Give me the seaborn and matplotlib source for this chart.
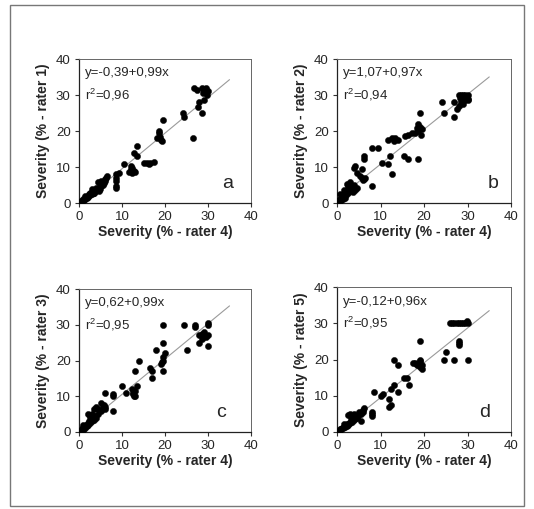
import matplotlib
matplotlib.use("Agg")
import matplotlib.pyplot as plt
import seaborn as sns
import pandas as pd
from matplotlib.patches import Rectangle

sns.set_style("ticks")
plt.rcParams['font.family'] = ['Liberation Sans', 'DejaVu Sans']

# ---------------- data ----------------
xa = [0.2,0.4,0.5,0.7,0.9,1.0,1.2,1.4,1.5,1.7,1.9,2.0,2.2,2.4,2.6,2.8,3.0,3.2,3.4,3.5,3.8,4.0,4.2,4.5,4.8,5.0,5.2,5.5,5.8,6.0,6.2,6.0,6.5,4.4,5.2,3.0,2.5,1.5,3.6,4.6,
      8.6,8.6,8.6,8.6,8.6,9.4,10.5,12.0,12.4,12.0,12.8,11.7,12.4,13.0,12.8,13.6,13.6,15.0,15.9,16.6,17.4,16.2,
      18.5,18.5,18.2,19.0,19.3,18.8,19.5,24.5,24.2,26.6,28.5,27.6,28.0,29.0,26.8,27.5,28.5,29.0,29.5,29.5,28.8,30.0,29.8]
ya = [0.1,0.3,0.6,0.5,0.8,1.1,0.9,1.3,1.0,1.6,1.4,2.0,1.8,2.4,2.1,2.9,2.6,3.2,2.9,3.6,3.3,4.1,3.6,4.2,3.8,4.6,5.3,5.0,5.6,6.2,7.0,6.6,7.4,5.7,6.1,3.8,2.8,2.0,2.7,3.4,
      8.0,7.0,6.0,4.8,4.3,8.4,10.7,10.2,9.8,9.4,9.0,8.7,8.4,8.6,14.0,13.0,15.8,11.2,11.2,11.2,11.3,10.9,
      19.5,20.0,18.0,17.5,17.2,18.2,23.0,24.0,25.0,18.0,25.0,26.8,28.0,28.5,32.0,31.5,32.0,31.5,32.0,31.0,30.5,31.0,30.0]

xb = [0.2,0.4,0.5,0.7,0.8,1.0,1.1,1.3,1.4,1.6,1.8,1.9,2.0,2.1,2.3,2.4,2.6,2.8,3.0,3.0,3.3,3.5,3.6,3.8,4.0,4.2,4.5,1.5,0.8,2.5,
      3.8,4.2,4.6,5.3,5.7,6.5,5.7,6.0,6.1,6.1,6.3,8.0,8.0,9.5,10.3,11.8,12.6,12.2,11.8,12.6,13.4,13.0,14.0,15.3,16.4,15.6,16.4,17.2,18.0,18.7,18.3,19.0,18.7,19.0,18.7,19.5,19.2,
      24.2,24.5,26.8,27.0,27.5,28.0,28.0,28.5,29.0,29.5,30.0,29.0,29.5,28.5,29.0,30.0,30.0,28.3]
yb = [0.3,0.2,0.8,0.5,1.2,0.8,1.6,2.2,1.1,1.8,2.6,1.5,3.0,2.2,5.2,3.5,2.8,4.0,5.7,3.2,3.8,4.5,3.0,4.0,5.0,3.6,4.2,3.6,2.4,4.6,
      9.8,10.3,8.4,7.5,7.0,7.0,9.4,6.5,12.1,13.0,6.8,4.8,15.3,15.3,11.2,10.7,8.0,13.0,17.6,18.0,18.0,17.2,17.5,13.0,12.1,18.7,19.0,19.4,19.4,19.9,20.8,21.0,22.0,25.0,12.1,20.5,19.0,
      28.0,25.0,24.0,28.0,26.0,27.0,30.0,30.0,30.0,30.0,30.0,29.0,28.5,28.0,27.5,29.0,28.5,29.2]

xc = [0.2,0.4,0.5,0.7,0.9,1.0,1.2,1.4,1.5,1.7,1.9,2.0,2.0,2.2,2.4,2.6,2.8,3.0,3.0,3.2,3.5,3.5,3.8,4.0,4.0,4.5,4.5,5.0,5.0,5.5,6.0,6.0,6.0,5.8,1.0,2.5,
      8.0,8.0,8.0,10.0,11.0,12.3,12.5,12.5,12.8,13.0,13.0,13.5,13.0,14.0,16.5,17.0,17.0,18.0,
      19.0,19.2,19.5,19.5,19.5,20.0,19.5,19.5,24.5,25.0,27.0,27.0,28.0,28.5,29.0,29.5,29.0,28.0,30.0,30.0,30.0,30.0,28.5]
yc = [0.2,0.5,0.3,0.9,0.6,1.3,1.0,1.7,1.2,2.0,1.6,2.5,5.0,2.0,3.0,2.6,3.5,3.0,5.0,4.0,3.4,6.5,4.5,7.0,4.0,6.5,5.0,8.0,6.0,7.0,7.0,6.5,11.0,7.5,2.0,4.2,
      10.0,10.5,6.0,13.0,11.0,12.0,11.0,10.5,10.0,10.2,11.5,13.0,17.0,20.0,18.0,17.0,15.0,23.0,
      19.0,19.5,21.0,20.0,17.0,22.0,25.0,30.0,30.0,23.0,29.5,30.0,25.0,26.0,27.0,26.5,28.0,27.0,27.0,30.5,30.0,24.0,27.5]

xd = [0.2,0.4,0.6,0.8,1.0,1.2,1.4,1.6,1.8,2.0,2.2,2.4,2.5,2.6,2.8,3.0,3.0,3.2,3.5,3.5,3.8,4.0,4.0,4.3,4.5,4.8,5.0,5.5,5.5,6.0,6.0,6.2,3.3,1.5,
      8.0,8.0,8.0,8.5,10.0,10.5,12.0,12.5,12.0,12.5,13.0,14.0,13.0,14.0,15.5,16.0,16.5,
      17.5,18.0,18.5,19.0,19.0,19.5,19.5,19.0,19.0,24.5,25.0,27.0,30.0,28.0,28.0,28.0,26.0,26.5,27.0,27.5,28.0,28.5,29.0,29.5,29.8,30.0]
yd = [0.1,0.3,0.5,0.7,0.9,1.2,1.0,1.5,1.3,1.9,1.6,2.3,4.8,2.0,2.6,5.0,2.4,3.0,4.5,2.8,3.5,5.0,3.2,4.0,3.8,4.5,5.5,5.0,3.0,6.0,5.5,6.5,3.8,2.2,
      5.0,5.5,4.5,11.0,10.0,10.5,9.0,7.5,7.0,12.0,13.0,11.0,20.0,18.5,15.0,15.0,13.0,
      19.0,19.0,18.5,19.5,18.0,18.5,17.5,20.0,25.0,20.0,22.0,20.0,20.0,24.0,25.0,24.5,30.0,30.0,30.0,30.0,30.0,30.0,30.0,30.0,30.5,30.0]

intercepts = [-0.39, 1.07, 0.62, -0.12]
slopes = [0.99, 0.97, 0.99, 0.96]
r2 = ["0,96", "0,94", "0,95", "0,95"]
eq_labels = ["y=-0,39+0,99x", "y=1,07+0,97x", "y=0,62+0,99x", "y=-0,12+0,96x"]
panel_letters = ["a", "b", "c", "d"]
letter_x = [34.5, 36.0, 33.0, 34.0]
ylabels = ["Severity (% - rater 1)", "Severity (% - rater 2)",
           "Severity (% - rater 3)", "Severity (% - rater 5)"]
xlabel = "Severity (% - rater 4)"
ticks = [0, 10, 20, 30, 40]
line_x = [0, 35]

xs = [xa, xb, xc, xd]
ys = [ya, yb, yc, yd]

# ---------------- figure ----------------
W, H = 534, 509
fig = plt.figure(figsize=(W / 100, H / 100), dpi=100)
fig.patch.set_facecolor("white")

# outer frame
fig.add_artist(Rectangle((10 / W, 3 / H), 514 / W, 501 / H, transform=fig.transFigure,
                         fill=False, edgecolor="#777777", linewidth=1.0))

boxes = [  # left, top, right, bottom in pixels
    (79, 59, 251, 203),
    (337, 59, 511, 203),
    (79, 289, 251, 432),
    (337, 287, 511, 432),
]

for i, (l, t, r, b) in enumerate(boxes):
    ax = fig.add_axes([l / W, 1 - b / H, (r - l) / W, (b - t) / H])
    df = pd.DataFrame({"x": xs[i], "y": ys[i]})
    sns.scatterplot(data=df, x="x", y="y", ax=ax, color="black", s=20,
                    edgecolor="black", linewidth=0.3, zorder=3)
    lx = pd.Series(line_x, dtype=float)
    ly = intercepts[i] + slopes[i] * lx
    sns.lineplot(x=lx, y=ly, ax=ax, color="#9a9a9a", linewidth=0.8, zorder=2)
    ax.set_xlim(0, 40)
    ax.set_ylim(0, 40)
    ax.set_xticks(ticks)
    ax.set_yticks(ticks)
    ax.tick_params(axis="both", direction="out", length=3, width=0.8,
                   labelsize=9.5, pad=3, color="#333333")
    ax.set_xlabel(xlabel, fontsize=10, fontweight="bold", labelpad=1)
    ax.set_ylabel(ylabels[i], fontsize=10, fontweight="bold", labelpad=4)
    for side in ["left", "bottom"]:
        ax.spines[side].set_color("#222222")
        ax.spines[side].set_linewidth(0.9)
    for side in ["top", "right"]:
        ax.spines[side].set_visible(True)
        ax.spines[side].set_color("#666666")
        ax.spines[side].set_linewidth(0.7)
    ax.text(1.4, 36, eq_labels[i], fontsize=9.5, va="center", ha="left")
    ax.text(1.4, 30, r"r$^{\mathregular{2}}$=" + r2[i], fontsize=9.5, va="center", ha="left")
    ax.text(letter_x[i], 5.5, panel_letters[i], fontsize=14, va="center", ha="center")

fig.savefig("out.png", dpi=100, facecolor="white")
